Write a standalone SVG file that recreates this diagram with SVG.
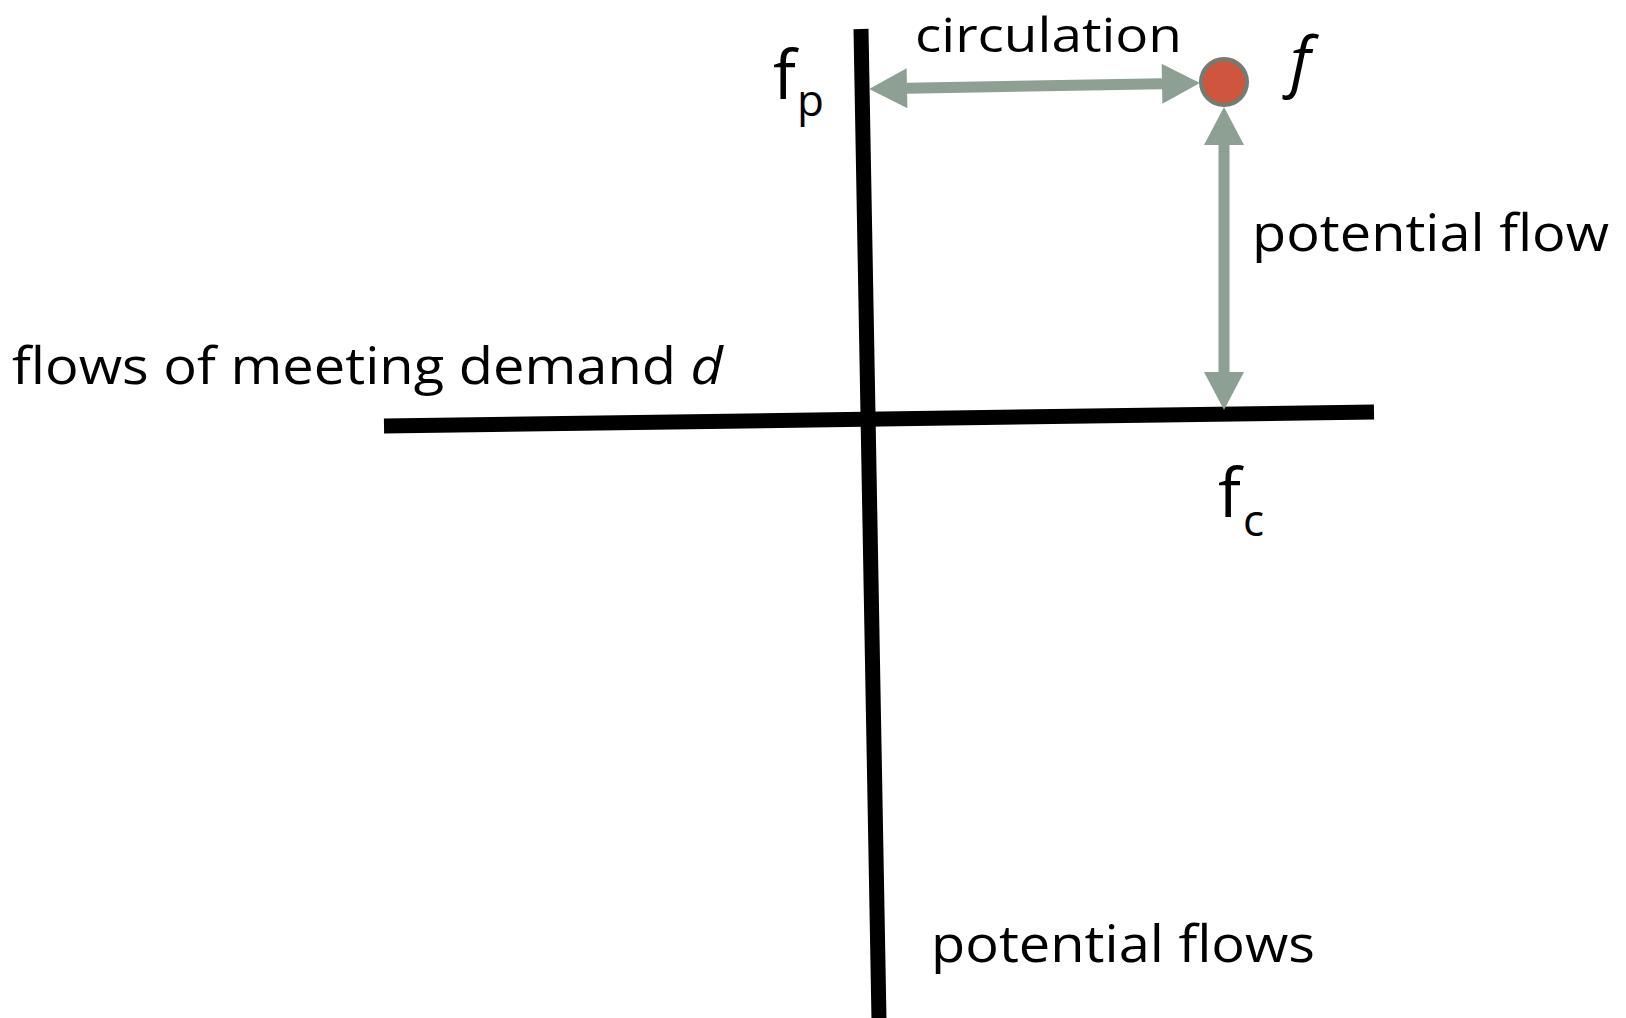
<svg xmlns="http://www.w3.org/2000/svg" width="1626" height="1018" viewBox="0 0 1626 1018">
<style>
  .t { font-family: "Open Sans", "Liberation Sans", sans-serif; fill: #000; }
  .axis { stroke: #000; stroke-width: 15; fill: none; }
  .arr { stroke: #8E9F94; stroke-width: 11; fill: none; marker-start: url(#ah); marker-end: url(#ah); }
</style>
<defs>
  <marker id="ah" markerUnits="userSpaceOnUse" markerWidth="40" markerHeight="40" viewBox="0 0 36 38" refX="0" refY="19" orient="auto-start-reverse">
    <path d="M0,0 L36,19 L0,38 z" fill="#8E9F94"/>
  </marker>
</defs>
<rect width="1626" height="1018" fill="#fff"/>
<g id="axes">
  <line class="axis" x1="384" y1="426" x2="1374" y2="412"/>
  <line class="axis" x1="861" y1="29" x2="879" y2="1020"/>
</g>
<g id="connectors">
  <line class="arr" x1="907" y1="88.3" x2="1162" y2="83.7"/>
  <line class="arr" x1="1224" y1="145" x2="1224" y2="372"/>
</g>
<g id="node-f">
  <circle cx="1224" cy="82" r="23" fill="#D0553F" stroke="#6F7D72" stroke-width="4"/>
</g>
<g id="labels">
  <text class="t" x="915" y="52" font-size="48" textLength="267" lengthAdjust="spacingAndGlyphs">circulation</text>
  <text class="t" x="1290" y="84" font-size="66" font-style="italic">f</text>
  <text class="t" x="773" y="99" font-size="68">f</text>
  <text class="t" x="797" y="116" font-size="44">p</text>
  <text class="t" x="1252" y="251" font-size="52" textLength="357" lengthAdjust="spacingAndGlyphs">potential flow</text>
  <text class="t" x="12" y="384" font-size="52" textLength="711" lengthAdjust="spacingAndGlyphs">flows of meeting demand <tspan font-style="italic">d</tspan></text>
  <text class="t" x="1218" y="517" font-size="68">f</text>
  <text class="t" x="1243" y="536" font-size="44">c</text>
  <text class="t" x="931" y="962" font-size="52" textLength="384" lengthAdjust="spacingAndGlyphs">potential flows</text>
</g>
</svg>
